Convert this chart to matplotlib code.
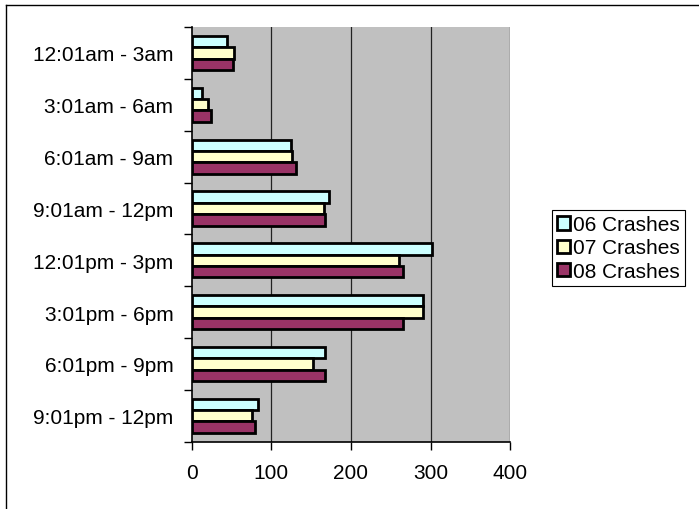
import numpy as np
import matplotlib.pyplot as plt
from matplotlib.lines import Line2D

plt.rcParams['font.family'] = ['Liberation Sans', 'DejaVu Sans']

# time-of-day bins, top to bottom
periods = ["12:01am - 3am", "3:01am - 6am", "6:01am - 9am", "9:01am - 12pm",
           "12:01pm - 3pm", "3:01pm - 6pm", "6:01pm - 9pm", "9:01pm - 12pm"]
crashes_06 = [45, 13, 125, 172, 302, 291, 167, 83]
crashes_07 = [53, 21, 126, 166, 260, 291, 153, 76]
crashes_08 = [52, 25, 131, 168, 266, 266, 167, 80]
series_names = ["06 Crashes", "07 Crashes", "08 Crashes"]
series_colors = ["#CCFFFF", "#FFFFCC", "#993366"]
x_ticks = [0, 100, 200, 300, 400]

fig = plt.figure(figsize=(6.99, 5.10), dpi=100)
ax = fig.add_axes([0.274, 0.132, 0.456, 0.813])
ax.set_facecolor("#C0C0C0")

y = np.arange(len(periods))
h = 0.22
for k, (vals, name, col) in enumerate(zip([crashes_06, crashes_07, crashes_08],
                                          series_names, series_colors)):
    ax.barh(y + (k - 1) * h, vals, height=h, color=col, edgecolor="black",
            linewidth=2, label=name, zorder=3)

ax.set_xlim(0, 400)
ax.set_ylim(len(periods) - 0.5, -0.5)
ax.set_xticks(x_ticks)
ax.set_xticklabels([str(t) for t in x_ticks])
for t in x_ticks[1:]:
    ax.axvline(t, color="#222222", linewidth=0.9, zorder=1)

# category labels sit between boundary ticks
ax.set_yticks(np.arange(len(periods) + 1) - 0.5)
ax.set_yticklabels([])
ax.set_yticks(y, minor=True)
ax.set_yticklabels(periods, minor=True)
ax.tick_params(axis="y", which="minor", length=0, pad=13, labelsize=15)
ax.tick_params(axis="y", which="major", length=6, width=1, direction="out")
ax.tick_params(axis="x", length=6, width=1, direction="out", pad=9, labelsize=15)

for side in ["top", "right"]:
    ax.spines[side].set_visible(False)
ax.spines["left"].set_linewidth(1.2)
ax.spines["bottom"].set_linewidth(1.2)

leg = ax.legend(loc="center left", bbox_to_anchor=(552 / 699, 1 - 249 / 510),
                bbox_transform=fig.transFigure, fontsize=15, fancybox=False,
                edgecolor="black", framealpha=1, handlelength=0.6,
                handleheight=0.6, handletextpad=0.15, labelspacing=0.2,
                borderpad=0.25, borderaxespad=0)
leg.get_frame().set_linewidth(0.8)

# chart frame (left and top edges visible in the crop)
fig.add_artist(Line2D([5.5 / 699, 5.5 / 699], [0, 1 - 5.5 / 510],
                      transform=fig.transFigure, color="black", linewidth=1))
fig.add_artist(Line2D([5.5 / 699, 1], [1 - 5.5 / 510, 1 - 5.5 / 510],
                      transform=fig.transFigure, color="black", linewidth=1))

fig.savefig("out.png", dpi=100)
